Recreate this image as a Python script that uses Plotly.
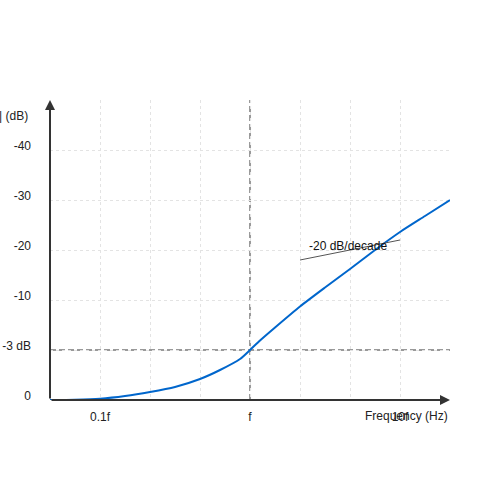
import numpy as np
import plotly.graph_objects as go

# frequency as multiple of the cutoff f, level as index on the dB tick ladder
freq = [0.0464, 0.0681, 0.1, 0.1468, 0.2154, 0.3162, 0.4642, 0.631, 0.858, 1.0,
        1.166, 1.468, 2.154, 3.162, 4.642, 6.813, 10.0, 14.68, 21.54]
level = [0.0, 0.006, 0.026, 0.08, 0.16, 0.26, 0.42, 0.6, 0.82, 1.0,
         1.19, 1.45, 1.87, 2.25, 2.62, 3.0, 3.36, 3.68, 4.0]

x_tickvals = [0.1, 1, 10]
x_ticktext = ['0.1f', 'f', '10f']
x_gridvals = [0.2154, 0.4642, 2.154, 4.642]

y_tickvals = [0, 1, 2, 3, 4, 5]
y_ticktext = ['0', '-3 dB', '-10', '-20', '-30', '-40']

cutoff = 1.0
cutoff_level = 1

slope_x = [2.154, 10.0]
slope_y = [2.8, 3.2]
slope_text = '-20 dB/decade'

ink = '#333333'
grid = '#e3e3e3'
font = dict(family='Liberation Sans, Arial, sans-serif', size=12, color='#222222')

fig = go.Figure()

fig.add_trace(go.Scatter(
    x=freq, y=level, mode='lines',
    line=dict(color='#0066cc', width=2, shape='spline', smoothing=0.6),
    hoverinfo='skip', showlegend=False
))

# slope marker
fig.add_trace(go.Scatter(
    x=slope_x, y=slope_y, mode='lines',
    line=dict(color='#555555', width=1),
    hoverinfo='skip', showlegend=False
))

fig.add_annotation(x=np.log10(2.4), y=3.09, xref='x', yref='y',
                   text=slope_text, showarrow=False, xanchor='left',
                   font=dict(family=font['family'], size=12, color='#111111'))

# dashed cutoff guides
fig.add_shape(type='line', xref='x', yref='paper', x0=cutoff, x1=cutoff,
              y0=0, y1=1, layer='between',
              line=dict(color='#999999', width=2, dash='6px,3px'))
fig.add_shape(type='line', xref='paper', yref='y', x0=0, x1=1,
              y0=cutoff_level, y1=cutoff_level, layer='between',
              line=dict(color='#999999', width=2, dash='6px,3px'))

# axes with arrows
fig.add_annotation(x=1, y=0, xref='paper', yref='paper', ax=-400, ay=0,
                   axref='pixel', ayref='pixel', text='', showarrow=True,
                   arrowhead=2, arrowsize=1, arrowwidth=2, arrowcolor=ink)
fig.add_annotation(x=0, y=1, xref='paper', yref='paper', ax=0, ay=300,
                   axref='pixel', ayref='pixel', text='', showarrow=True,
                   arrowhead=2, arrowsize=1, arrowwidth=2, arrowcolor=ink)

# axis titles
fig.add_annotation(x=1, y=0, xref='paper', yref='paper', yshift=-16,
                   text='Frequency (Hz)', showarrow=False,
                   xanchor='right', yanchor='middle', font=font)
fig.add_annotation(x=0, y=1, xref='paper', yref='paper', xshift=-20, yshift=-16,
                   text='|H(f)| (dB)', showarrow=False,
                   xanchor='right', yanchor='middle', font=font)

fig.update_xaxes(
    type='log', range=[np.log10(freq[0]), np.log10(freq[-1])],
    tickmode='array', tickvals=x_tickvals, ticktext=x_ticktext,
    ticks='', ticklabelstandoff=8, tickfont=font, automargin=False,
    showgrid=True, gridcolor=grid, griddash='3px,3px', gridwidth=1,
    minor=dict(tickmode='array', tickvals=x_gridvals, showgrid=True,
               gridcolor=grid, griddash='3px,3px', gridwidth=1, ticks=''),
    showline=False, zeroline=False
)
fig.update_yaxes(
    range=[0, 6], tickmode='array', tickvals=y_tickvals, ticktext=y_ticktext,
    ticks='', ticklabelstandoff=18, ticklabelshift=-4, tickfont=font,
    automargin=False,
    showgrid=True, gridcolor=grid, griddash='3px,3px', gridwidth=1,
    showline=False, zeroline=False
)

fig.update_layout(
    width=500, height=500,
    margin=dict(l=50, r=50, t=100, b=100, autoexpand=False),
    paper_bgcolor='white', plot_bgcolor='white',
    font=font, showlegend=False
)

fig.write_html("out.html", config={'displayModeBar': False},
               post_script="document.body.style.margin='0';")
